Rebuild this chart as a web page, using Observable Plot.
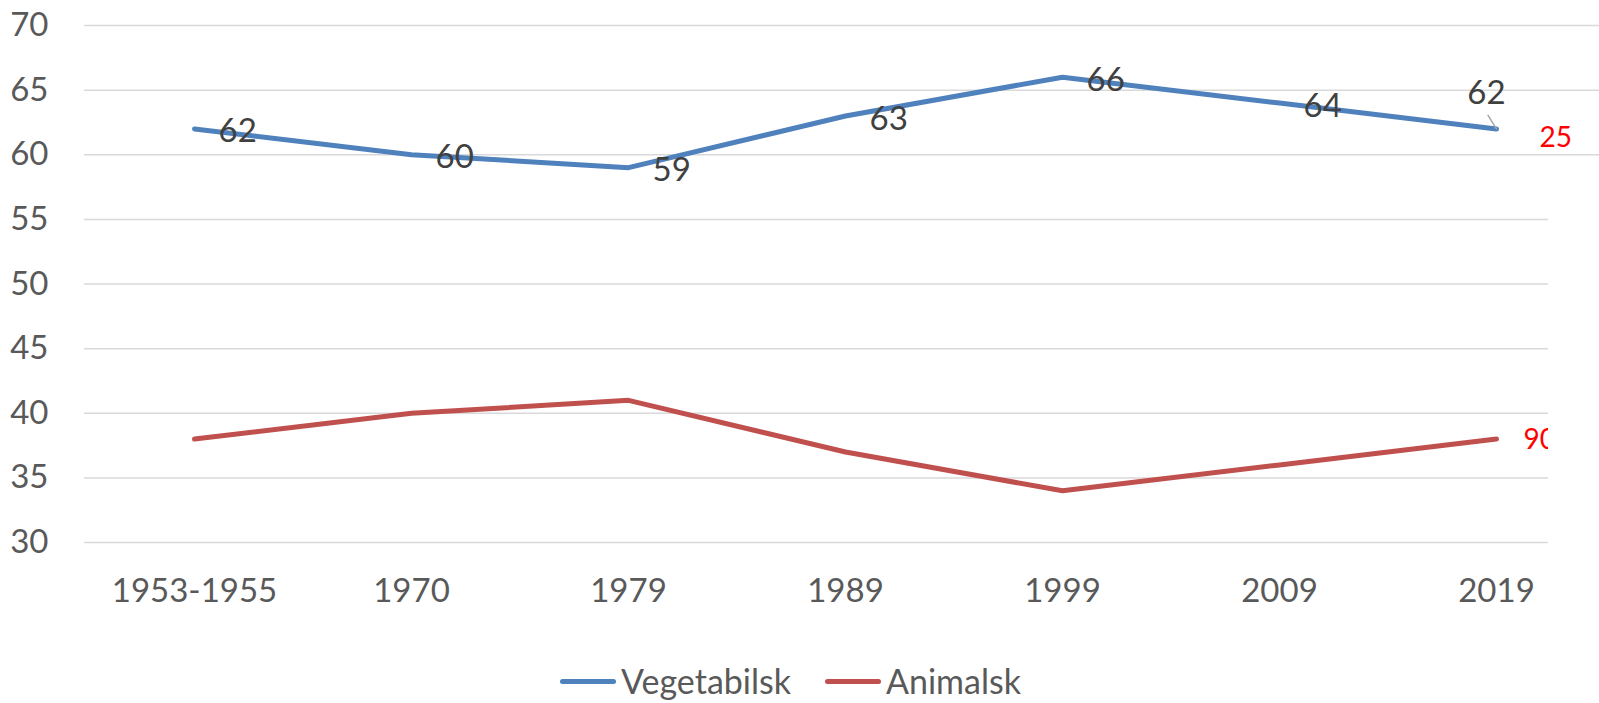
<!DOCTYPE html>
<html><head><meta charset="utf-8">
<script src="https://cdn.jsdelivr.net/npm/d3@7"></script>
<script src="https://cdn.jsdelivr.net/npm/@observablehq/plot@0.6"></script>
<style>
html,body{margin:0;padding:0;background:#fff;overflow:hidden;width:1599px;height:703px}
#legend{display:flex;justify-content:center;align-items:center;height:62px;font-family:Lato,sans-serif;font-size:34px;color:#595959;line-height:1;padding-right:18px}
.item{display:flex;align-items:center;margin:0 17px}
.sw{width:56px;height:5px;border-radius:3px;margin-right:5px}
</style></head><body><div id="chart"></div><div id="legend"></div>
<script>
const categories = ["1953-1955","1970","1979","1989","1999","2009","2019"];
const vegetabilsk = [62,60,59,63,66,64,62];
const animalsk = [38,40,41,37,34,36,38];
const seriesNames = ["Vegetabilsk","Animalsk"];
const seriesColors = ["#4F81BD","#C0504D"];
const yTicks = [30,35,40,45,50,55,60,65,70];
const sideLabels = ["25","90"];

const seriesValues = [vegetabilsk, animalsk];
const rows = seriesNames.flatMap((s,i)=>categories.map((c,j)=>({series:s, year:c, value:seriesValues[i][j]})));
const veg = rows.filter(r=>r.series===seriesNames[0]);
const ani = rows.filter(r=>r.series===seriesNames[1]);
const lastVeg = [veg[veg.length-1]];
const lastAni = [ani[ani.length-1]];

const chart = Plot.plot({
  width: 1599,
  height: 650,
  marginLeft: 84,
  marginRight: 51,
  marginTop: 25,
  marginBottom: 108,
  style: {fontFamily: "Lato, sans-serif", fontSize: "33px", color: "#595959", background: "#fff", overflow: "visible"},
  x: {type: "point", domain: categories, padding: 0.5, insetRight: -57, label: null},
  y: {domain: [30,70], label: null},
  color: {domain: seriesNames, range: seriesColors},
  marks: [
    Plot.ruleY(yTicks.filter(v=>v<60), {stroke:"#D9D9D9", strokeWidth:1.5}),
    Plot.ruleY(yTicks.filter(v=>v>=60), {stroke:"#D9D9D9", strokeWidth:1.5, insetRight:-51}),
    Plot.axisY({ticks: yTicks, tickSize:0, tickPadding:36, fontSize:33, label:null}),
    Plot.axisX({tickSize:0, tickPadding:36, fontSize:33, label:null}),
    Plot.line(rows, {x:"year", y:"value", z:"series", stroke:"series", strokeWidth:5, strokeLinecap:"round", strokeLinejoin:"round"}),
    Plot.text(veg.slice(0,-1), {x:"year", y:"value", text:d=>String(d.value), textAnchor:"start", dx:24, dy:3, fill:"#404040", fontSize:33}),
    Plot.vector(lastVeg, {x:"year", y:"value", anchor:"start", length:16, rotate:-32, stroke:"#A6A6A6", strokeWidth:1.5,
      shape:{draw(ctx,l){ctx.moveTo(0,0); ctx.lineTo(0,-l);}}}),
    Plot.text(lastVeg, {x:"year", y:"value", text:d=>String(d.value), textAnchor:"middle", dx:-10, dy:-35, fill:"#404040", fontSize:33}),
    Plot.text(lastVeg, {x:"year", y:"value", text:()=>sideLabels[0], textAnchor:"start", dx:43, dy:9, fill:"#FF0000", fontSize:28}),
    Plot.text(lastAni, {x:"year", y:"value", text:()=>sideLabels[1], textAnchor:"start", dx:27, dy:1, fill:"#FF0000", fontSize:28, clip:true})
  ]
});
document.getElementById("chart").append(chart);

const legend = document.getElementById("legend");
seriesNames.forEach((s,i)=>{
  const item = document.createElement("div"); item.className="item";
  const sw = document.createElement("div"); sw.className="sw"; sw.style.background=seriesColors[i];
  const t = document.createElement("span"); t.textContent = s;
  item.append(sw,t); legend.append(item);
});
</script></body></html>
